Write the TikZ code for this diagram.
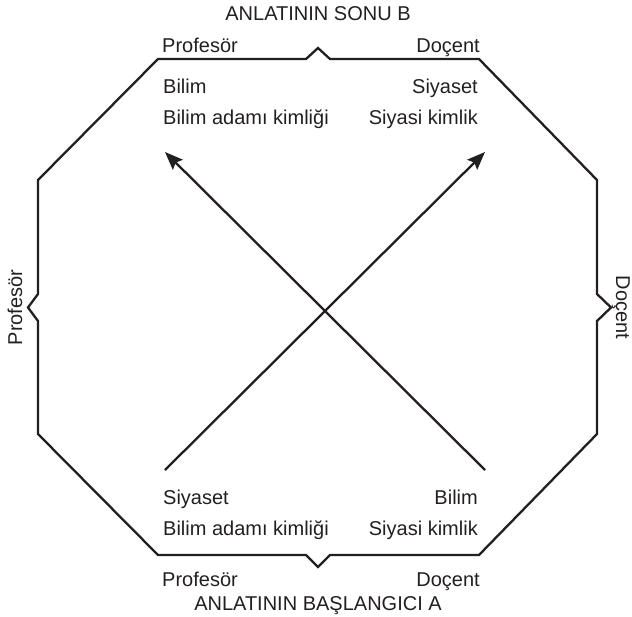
\documentclass[tikz,border=0pt]{standalone}
\usepackage{fontspec}
\setmainfont{Liberation Sans}
\usetikzlibrary{arrows.meta}
\definecolor{ink}{HTML}{231F20}
\begin{document}
\begin{tikzpicture}[x=1pt,y=-1pt,
  lbl/.style={font=\fontsize{20}{24}\selectfont, text=ink, inner sep=0pt},
  frame/.style={draw=ink, line width=2.3pt, line join=miter},
  arr/.style={draw=ink, line width=2.3pt, -{Stealth[length=18pt,width=14pt,inset=3pt]}}]
\useasboundingbox (0,0) rectangle (632,616);
% octagon frame with notches
\draw[frame] (158,59) -- (306,59) -- (318,48) -- (330,59) -- (479,59)
  -- (597,180) -- (597,294) -- (611,307.5) -- (597,321) -- (597,434)
  -- (479,555) -- (330,555) -- (318,567) -- (306,555) -- (158,555)
  -- (38,434) -- (38,321) -- (28,307.5) -- (38,294) -- (38,180) -- cycle;
% arrows
\coordinate (bl) at (165,470);
\coordinate (br) at (485,470);
\coordinate (tl) at (165,152);
\coordinate (tr) at (485,152);
\draw[arr] (bl) -- (tr);
\draw[arr] (br) -- (tl);
% titles
\node[lbl] (tB) at (318,14) {ANLATININ SONU B};
\node[lbl] (tA) at (318,606) {ANLATININ BAŞLANGICI A};
% corner labels
\node[lbl, anchor=base west] (pT) at (162,52) {Profesör};
\node[lbl, anchor=base east] (dT) at (480,52) {Doçent};
\node[lbl, anchor=base west] (pB) at (162,586) {Profesör};
\node[lbl, anchor=base east] (dB) at (480,586) {Doçent};
% side labels
\node[lbl, rotate=90] (pL) at (15,307.5) {Profesör};
\node[lbl, rotate=-90] (dR) at (621,307.5) {Doçent};
% inner texts top
\node[lbl, anchor=base west] (a1) at (163,93) {Bilim};
\node[lbl, anchor=base west] (a2) at (163,124) {Bilim adamı kimliği};
\node[lbl, anchor=base east] (b1) at (478,93) {Siyaset};
\node[lbl, anchor=base east] (b2) at (478,124) {Siyasi kimlik};
% inner texts bottom
\node[lbl, anchor=base west] (c1) at (163,504) {Siyaset};
\node[lbl, anchor=base west] (c2) at (163,535) {Bilim adamı kimliği};
\node[lbl, anchor=base east] (d1) at (478,504) {Bilim};
\node[lbl, anchor=base east] (d2) at (478,535) {Siyasi kimlik};
\end{tikzpicture}
\end{document}
